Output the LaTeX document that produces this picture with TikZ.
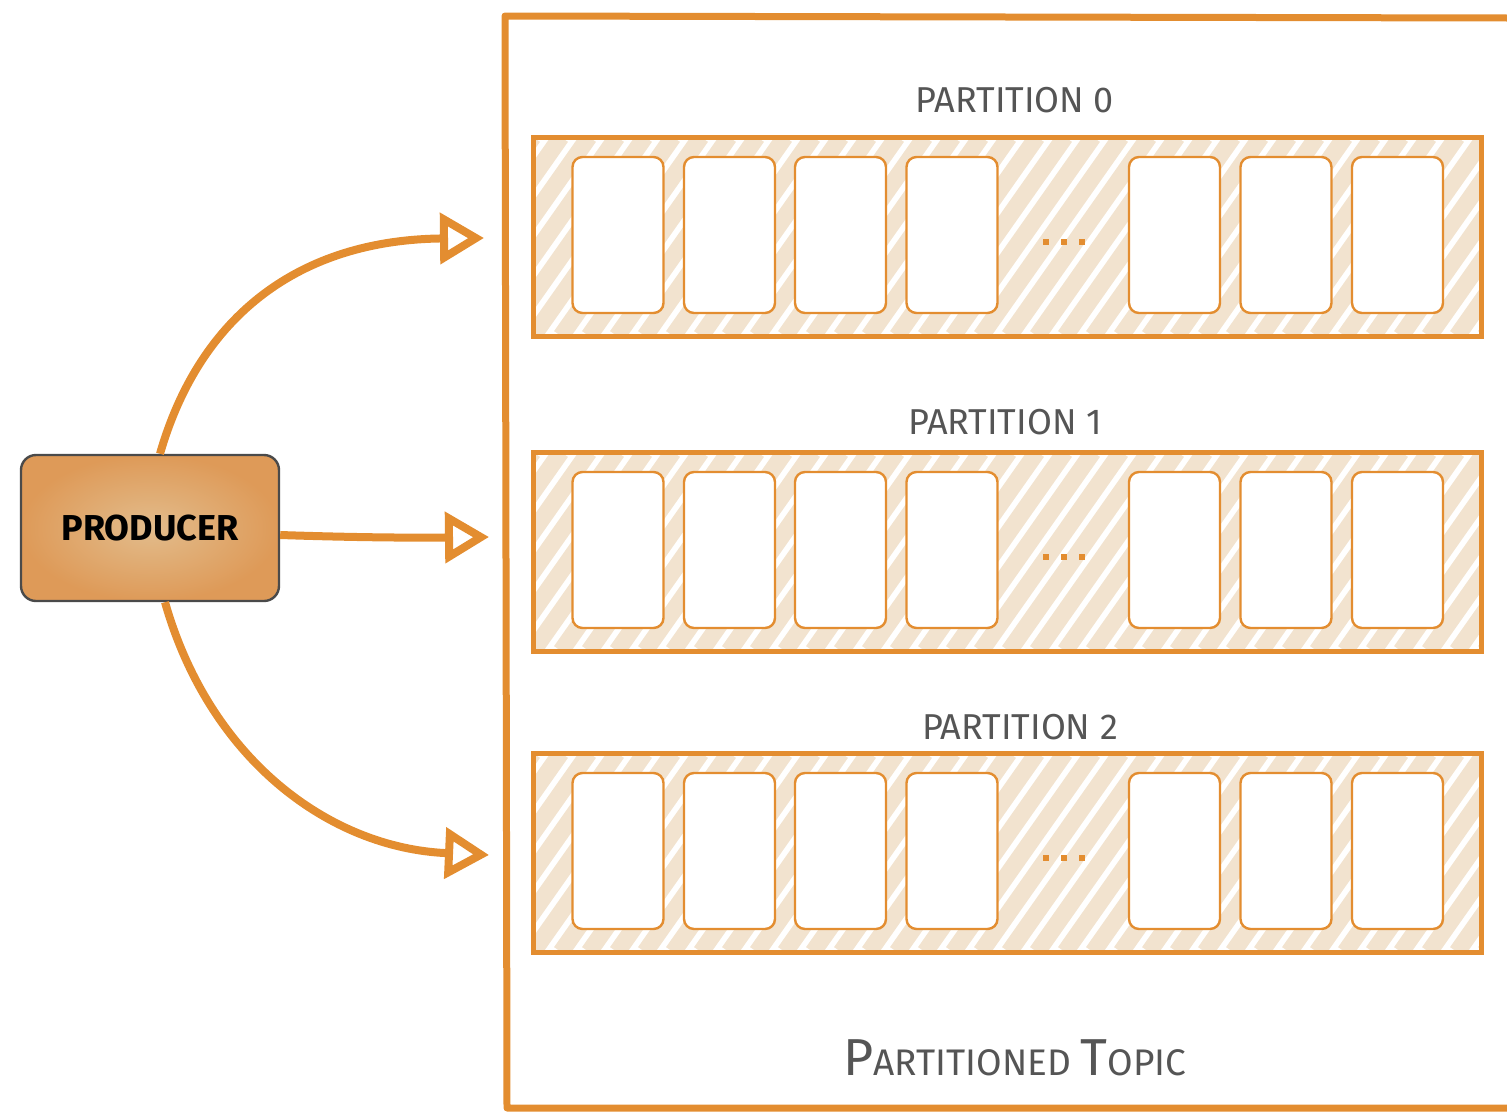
\documentclass[tikz,border=0pt]{standalone}
\usepackage{fontspec}
\setmainfont{Fira Sans}
\usetikzlibrary{arrows.meta}
\definecolor{topicorange}{HTML}{E38D30}
\definecolor{hatchbeige}{HTML}{F2E3CF}
\definecolor{labelgray}{HTML}{555555}
\definecolor{prodborder}{HTML}{4A4A4A}
\definecolor{prodinner}{HTML}{E2BC8C}
\definecolor{prodouter}{HTML}{DE9A58}
\begin{document}
\begin{tikzpicture}[x=1pt,y=-1pt,
  frameline/.style={draw=topicorange, line width=7pt, line cap=round, line join=round},
  partbox/.style={rectangle, draw=topicorange, line width=5pt, inner sep=0pt,
    minimum width=948pt, minimum height=199pt,
    path picture={
      \foreach \k in {-8,...,40}
        \draw[hatchbeige, line width=17pt]
          ([xshift=\k*28pt]path picture bounding box.south west) -- ++(140pt,199pt);
    }},
  cell/.style={rectangle, draw=topicorange, fill=white, line width=2.4pt,
    rounded corners=10pt, minimum width=91pt, minimum height=156pt, inner sep=0pt},
  dot/.style={rectangle, fill=topicorange, minimum size=6pt, inner sep=0pt},
  partlabel/.style={text=labelgray, font=\fontsize{36}{42}\selectfont},
  producer/.style={rectangle, draw=prodborder, line width=2.4pt, rounded corners=15pt,
    minimum width=258pt, minimum height=146pt, inner sep=0pt,
    inner color=prodinner, outer color=prodouter,
    font=\fontsize{36}{42}\selectfont\bfseries},
  flow/.style={draw=topicorange, line width=8pt,
    -{Triangle[open, length=44pt, width=50pt, fill=white]}}
]
\useasboundingbox (0,0) rectangle (1507,1111);

% topic frame, open on the right
\draw[frameline] (1507,18) -- (505,16) -- (507,1108) -- (1507,1108);

% partitions with their record cells
\foreach \p/\top in {0/137, 1/452, 2/753} {
  \node[partbox] (p\p) at (1007,\top+99.5) {};
  \foreach \i/\cx in {1/618, 2/729.5, 3/840.5, 4/952, 5/1174.5, 6/1286, 7/1397.5}
    \node[cell] (c\p-\i) at (\cx,\top+98) {};
  \foreach \j/\dx in {1/1046, 2/1064, 3/1082}
    \node[dot] (d\p-\j) at (\dx,\top+105) {};
}

% partition titles
\node[partlabel] (l0) at (1015,100) {PARTITION 0};
\node[partlabel] (l1) at (1005,422) {PARTITION 1};
\node[partlabel] (l2) at (1020,727) {PARTITION 2};

% topic title
\node[text=labelgray] (topic) at (1015,1058)
  {{\fontsize{52}{56}\selectfont P}{\fontsize{37}{56}\selectfont ARTITIONED }{\fontsize{52}{56}\selectfont T}{\fontsize{37}{56}\selectfont OPIC}};

% producer
\node[producer] (prod) at (150,528) {PRODUCER};

% arrow targets in front of each partition
\coordinate (t0) at (484,238);
\coordinate (t1) at (489,537);
\coordinate (t2) at (489,855);

\draw[flow] ([xshift=10pt]prod.north) .. controls (200,315) and (300,240) .. (t0);
\draw[flow] ([yshift=-7pt]prod.east) .. controls (340,537) and (400,538) .. (t1);
\draw[flow] ([xshift=15pt]prod.south) .. controls (210,760) and (330,848) .. (t2);
\end{tikzpicture}
\end{document}
